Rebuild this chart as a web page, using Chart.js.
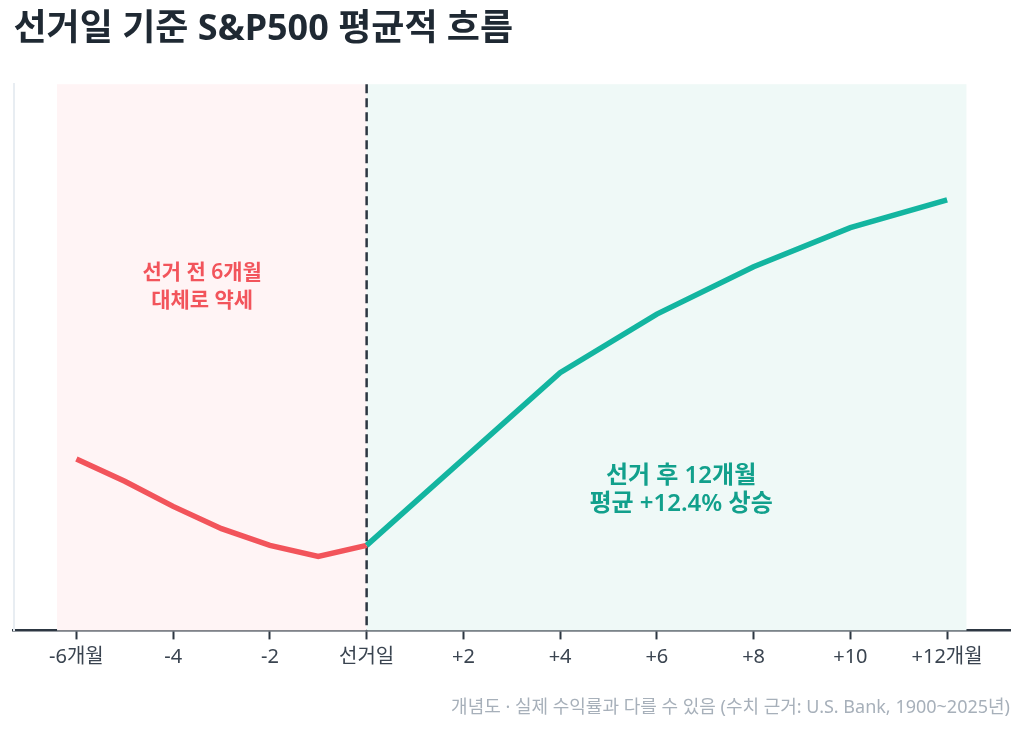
<!DOCTYPE html>
<html lang="ko">
<head>
    <meta charset="UTF-8">
    <title>선거일 기준 S&P500 평균적 흐름</title>
    <script src="https://cdn.jsdelivr.net/npm/chart.js@4.4.1/dist/chart.umd.min.js"></script>
    <style>
        html, body {
            margin: 0;
            padding: 0;
            background: #ffffff;
        }
        #wrap {
            position: relative;
            width: 1024px;
            height: 730px;
        }
    </style>
</head>
<body>
    <div id="wrap"><canvas id="chart"></canvas></div>

    <script>
        // 선거 전 / 후 평균 수익률 (%), 선거일 = 0
        const preMonths = [-6, -5, -4, -3, -2, -1, 0];
        const preReturn = [3.1, 2.3, 1.4, 0.6, 0.0, -0.4, 0];
        const postMonths = [0, 4, 6, 8, 10, 12];
        const postReturn = [0, 6.2, 8.3, 10.0, 11.4, 12.4];

        const tickValues = [-6, -4, -2, 0, 2, 4, 6, 8, 10, 12];
        const tickLabels = ['-6개월', '-4', '-2', '선거일', '+2', '+4', '+6', '+8', '+10', '+12개월'];

        const preNote = ['선거 전 6개월', '대체로 약세'];
        const postNote = ['선거 후 12개월', '평균 +12.4% 상승'];

        const RED = '#f2545b';
        const TEAL = '#13b5a0';
        const FONT = "'Noto Sans', 'Noto Sans CJK KR', sans-serif";

        // 배경 구간, 선거일 점선, 설명 텍스트
        const zonesPlugin = {
            id: 'zones',
            beforeDatasetsDraw(chart) {
                const { ctx, chartArea, scales } = chart;
                const x = scales.x;
                const x0 = x.getPixelForValue(-6.4);
                const x1 = x.getPixelForValue(0);
                const x2 = x.getPixelForValue(12.4);
                ctx.save();
                ctx.fillStyle = '#fff4f5';
                ctx.fillRect(x0, chartArea.top, x1 - x0, chartArea.bottom - chartArea.top);
                ctx.fillStyle = '#eff9f7';
                ctx.fillRect(x1, chartArea.top, x2 - x1, chartArea.bottom - chartArea.top);

                ctx.strokeStyle = '#2d3742';
                ctx.lineWidth = 2.5;
                ctx.setLineDash([9, 5]);
                ctx.beginPath();
                ctx.moveTo(x1, chartArea.top);
                ctx.lineTo(x1, chartArea.bottom);
                ctx.stroke();
                ctx.restore();
            },
            afterDatasetsDraw(chart) {
                const { ctx, scales } = chart;
                ctx.save();
                ctx.textAlign = 'center';
                ctx.textBaseline = 'middle';

                ctx.font = '600 21px ' + FONT;
                ctx.fillStyle = RED;
                let cx = scales.x.getPixelForValue(-3.4);
                let cy = scales.y.getPixelForValue(9.27);
                ctx.fillText(preNote[0], cx, cy - 14);
                ctx.fillText(preNote[1], cx, cy + 14);

                ctx.font = '600 24px ' + FONT;
                ctx.fillStyle = '#12a08c';
                cx = scales.x.getPixelForValue(6.5);
                cy = scales.y.getPixelForValue(2.0);
                ctx.fillText(postNote[0], cx, cy - 14);
                ctx.fillText(postNote[1], cx, cy + 14);
                ctx.restore();
            }
        };

        const ctx = document.getElementById('chart').getContext('2d');
        const chart = new Chart(ctx, {
            type: 'line',
            data: {
                datasets: [{
                    label: '선거 전',
                    data: preMonths.map((m, i) => ({ x: m, y: preReturn[i] })),
                    borderColor: RED,
                    borderWidth: 5.5,
                    pointRadius: 0,
                    tension: 0,
                    order: 2
                }, {
                    label: '선거 후',
                    data: postMonths.map((m, i) => ({ x: m, y: postReturn[i] })),
                    borderColor: TEAL,
                    borderWidth: 5.5,
                    pointRadius: 0,
                    tension: 0,
                    order: 1
                }]
            },
            options: {
                responsive: true,
                maintainAspectRatio: false,
                animation: false,
                layout: {
                    padding: { left: 13.5, right: 14, top: 0, bottom: 11 }
                },
                scales: {
                    x: {
                        type: 'linear',
                        min: -7.3,
                        max: 13.3,
                        afterBuildTicks(axis) {
                            axis.ticks = tickValues.map(v => ({ value: v }));
                        },
                        ticks: {
                            autoSkip: false,
                            maxRotation: 0,
                            padding: 6,
                            color: '#3a4450',
                            font: { family: FONT, size: 20 },
                            callback: (v) => tickLabels[tickValues.indexOf(v)]
                        },
                        grid: {
                            drawOnChartArea: false,
                            drawTicks: true,
                            tickLength: 9,
                            tickWidth: 2,
                            color: '#2d3742'
                        },
                        border: { display: true, color: '#2d3742', width: 2.5 }
                    },
                    y: {
                        min: -3.05,
                        max: 16.55,
                        afterFit(axis) { axis.width = 0; },
                        ticks: { display: false },
                        grid: { display: false },
                        border: { display: true, color: '#e8edf2', width: 2 }
                    }
                },
                plugins: {
                    legend: { display: false },
                    tooltip: { enabled: false },
                    title: {
                        display: true,
                        text: '선거일 기준 S&P500 평균적 흐름',
                        align: 'start',
                        color: '#1f2933',
                        font: { family: FONT, size: 36, weight: 'bold' },
                        padding: { top: 8, bottom: 33 }
                    },
                    subtitle: {
                        display: true,
                        position: 'bottom',
                        align: 'end',
                        text: '개념도 · 실제 수익률과 다를 수 있음 (수치 근거: U.S. Bank, 1900~2025년)',
                        color: '#a7b0ba',
                        font: { family: FONT, size: 18 },
                        padding: { top: 22, bottom: 0 }
                    }
                }
            },
            plugins: [zonesPlugin]
        });
    </script>
</body>
</html>
